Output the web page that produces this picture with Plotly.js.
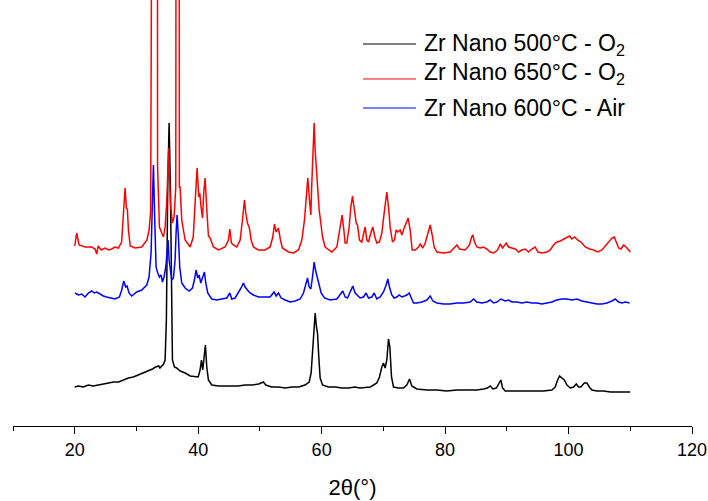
<!DOCTYPE html>
<html>
<head>
<meta charset="utf-8">
<script src="https://cdn.plot.ly/plotly-3.0.1.min.js"></script>
<style>
html,body{margin:0;padding:0;background:#fff;}
#chart{width:708px;height:501px;}
</style>
</head>
<body>
<div id="chart"></div>
<script>
// Series names
const seriesNames = ["Zr Nano 500°C - O<sub>2</sub>", "Zr Nano 650°C - O<sub>2</sub>", "Zr Nano 600°C - Air"];
const seriesColors = ["#000000", "#ff0000", "#0000ff"];

// Black: Zr Nano 500°C - O2 (offset intensity, a.u.)
const blackX = [20.0,20.6,21.4,22.2,23.0,23.8,24.6,25.5,26.3,27.1,27.9,28.7,29.5,30.3,31.1,31.9,32.6,33.1,33.6,33.8,34.1,34.4,34.64,34.85,35.07,35.29,35.5,35.67,35.83,36.15,36.5,37.1,37.9,38.7,39.5,40.0,40.31,40.53,40.74,40.96,41.17,41.39,41.66,42.2,43.3,44.4,45.4,46.5,47.6,48.7,49.8,50.3,50.57,50.95,51.9,53.0,54.1,55.2,56.3,57.3,57.98,58.3,58.52,58.73,58.95,59.16,59.33,59.54,59.76,60.14,61.1,62.2,63.3,64.4,65.4,66.2,67.9,68.94,69.37,69.75,70.02,70.29,70.56,70.83,71.05,71.32,71.64,72.45,73.26,73.8,74.24,74.61,75.42,77.05,78.67,80.29,81.91,83.53,85.15,86.23,86.88,87.31,87.74,88.3,88.72,89.04,89.31,89.74,91.09,92.71,94.33,95.95,97.3,97.84,98.22,98.55,98.93,99.31,99.74,100.28,100.82,101.25,101.63,102.0,102.55,102.98,103.36,103.79,104.6,105.68,106.76,107.84,108.92,110.0];
const blackY = [39,40,39,41,40,41,42,43,44,44,46,48,49,51,53,55,57,59,60,58,60,62,66,106,239,303,239,139,66,59,58,55,53,50,49,49,56,66,56,66,81,59,46,41,40,40,40,40,41,41,42,43,44,41,39,39,38,39,39,41,44,53,73,103,113,99,93,69,48,41,39,39,38,38,39,38,39,43,49,59,63,58,66,87,79,49,39,38,38,41,47,40,37,36,36,35,36,36,36,37,38,40,37,38,43,46,38,35,35,35,35,35,36,39,46,50,48,46,41,38,39,42,39,39,43,43,39,36,35,35,34,34,34,34];

// Red: Zr Nano 650°C - O2 (offset intensity, a.u.)
const redX = [20.0,20.32,20.7,21.7,22.75,23.3,23.56,23.8,24.3,24.9,25.5,26.0,26.5,27.07,27.6,27.9,28.15,28.37,28.53,28.7,29.0,29.8,30.86,31.7,32.05,32.3,32.45,32.58,33.3,33.42,33.55,33.72,34.1,34.37,34.64,34.9,35.22,35.5,35.83,36.1,36.37,36.52,36.78,36.95,37.07,37.34,37.88,38.7,39.2,39.5,39.82,40.1,40.26,40.47,40.7,40.9,41.12,41.4,41.66,41.93,42.47,43.3,44.36,44.9,45.12,45.39,45.7,46.25,46.8,47.17,47.5,47.71,47.98,48.3,48.58,48.95,49.76,50.84,51.65,52.09,52.36,52.63,53.0,53.33,53.65,54.63,55.44,56.25,56.79,57.22,57.6,57.76,58.03,58.25,58.41,58.62,58.79,58.95,59.16,59.38,59.6,59.87,60.14,60.57,61.65,62.46,62.84,63.11,63.32,63.6,63.81,64.08,64.46,64.73,65.0,65.38,65.6,65.81,66.13,66.51,66.78,67.05,67.32,67.59,67.97,68.29,68.62,68.94,69.37,69.75,70.13,70.35,70.56,70.83,71.1,71.48,71.8,72.08,72.35,72.72,72.99,73.37,73.7,74.02,74.34,74.67,75.15,75.7,75.97,76.4,76.78,77.21,77.59,77.91,78.23,78.67,79.75,80.83,81.48,81.91,82.34,83.26,83.96,84.29,84.5,84.77,85.15,85.69,86.23,86.77,87.31,87.85,88.5,88.93,89.31,89.9,90.28,90.82,91.36,91.9,92.44,92.98,93.52,94.06,94.6,95.04,95.68,96.5,97.03,97.57,98.11,98.66,99.2,99.74,100.17,100.55,100.98,101.46,102.0,102.71,103.41,104.06,104.7,105.41,105.95,106.6,107.03,107.41,107.73,108.11,108.49,108.92,109.19,109.57,110.0];
const redY = [180,193,181,179,179,177,172,180,176,178,176,177,179,178,184,213,238,218,217,196,180,178,179,186,196,215,300,2000,2000,260,223,199,193,189,199,223,278,223,203,209,239,3000,3000,239,239,206,186,179,189,223,258,229,233,219,208,233,248,216,190,188,179,176,179,186,197,183,181,179,186,206,226,213,203,198,186,179,176,176,179,189,202,194,198,186,178,174,173,176,186,206,236,248,226,211,243,283,303,276,256,243,216,203,189,179,174,179,193,206,211,196,183,183,199,219,230,213,203,201,186,184,193,199,186,184,193,199,189,183,184,193,213,226,234,219,199,184,186,196,194,196,191,198,203,208,196,176,176,179,182,178,183,193,201,191,179,174,173,174,178,181,177,176,181,189,191,184,179,178,179,177,174,173,176,182,178,183,179,178,177,174,176,177,174,177,179,174,173,174,176,181,184,185,187,189,190,187,189,186,184,179,177,176,174,176,180,185,188,189,184,178,177,181,180,177,174];

// Blue: Zr Nano 600°C - Air (offset intensity, a.u.)
const blueX = [20.05,20.59,21.13,21.67,22.21,22.75,23.18,23.56,24.1,24.64,25.18,25.72,26.53,27.24,27.61,27.94,28.26,28.48,28.8,29.23,30.05,30.86,31.67,32.04,32.37,32.58,32.75,32.96,33.18,33.45,33.72,33.99,34.21,34.47,34.75,34.96,35.12,35.29,35.45,35.72,35.99,36.26,36.42,36.58,36.8,37.01,37.34,37.88,38.53,39.07,39.39,39.66,39.93,40.15,40.42,40.74,41.01,41.23,41.55,42.2,43.01,43.82,44.63,45.12,45.44,45.98,46.52,46.95,47.33,47.6,47.98,48.41,48.95,49.76,50.84,51.65,52.3,52.63,53.0,53.44,54.09,54.9,55.71,56.52,57.06,57.44,57.71,57.98,58.25,58.52,58.79,59.0,59.27,59.6,59.92,60.46,61.38,62.46,63.0,63.43,63.81,64.19,64.62,65.05,65.43,65.81,66.24,66.78,67.21,67.59,68.13,68.51,68.94,69.48,70.02,70.45,70.72,70.99,71.37,71.75,72.18,72.56,72.99,73.43,73.8,74.18,74.51,74.88,75.42,76.24,77.05,77.59,78.02,78.67,79.75,80.83,81.91,82.99,84.07,84.61,85.15,85.96,86.77,87.31,87.85,88.39,89.04,89.74,90.28,90.82,91.63,92.44,93.25,94.06,94.87,95.68,96.5,97.3,98.11,98.93,99.74,100.55,101.36,102.17,102.98,103.79,104.6,105.41,106.22,107.03,107.57,108.11,108.65,109.19,109.89];
const blueY = [133,131,132,129,133,135,133,134,132,130,129,128,127,129,136,145,139,140,133,130,134,136,141,149,173,223,261,206,159,153,149,151,144,149,159,173,186,166,156,146,148,166,193,211,189,159,143,138,135,138,146,156,148,151,143,149,154,143,133,127,126,127,128,133,127,128,133,138,143,139,136,133,131,129,129,129,134,130,133,128,126,124,125,127,133,141,148,139,137,149,164,156,149,139,133,128,126,127,131,135,129,128,134,140,133,131,128,129,133,128,129,133,127,129,134,141,147,139,131,128,129,131,129,130,131,133,128,123,123,124,126,130,125,123,122,122,123,123,124,127,124,123,124,126,123,124,127,125,126,124,124,123,124,123,123,122,123,124,126,127,127,126,127,125,124,123,122,122,123,125,127,124,123,124,123];

// Axis ticks
const majorTicks = [20, 40, 60, 80, 100, 120];
const xTitle = "2θ(°)";

const xs = [blackX, redX, blueX];
const ys = [blackY, redY, blueY];

const traces = xs.map((x, i) => ({
  x: x, y: ys[i], type: 'scatter', mode: 'lines', name: seriesNames[i],
  line: {color: seriesColors[i], width: 1.5}, showlegend: false, hoverinfo: 'skip'
}));

const FONT = 'Liberation Sans, Arial, sans-serif';
const legendRows = [0.8967, 0.8286, 0.7465];
const legendLines = [0.8967, 0.8146, 0.7465];

const shapes = seriesNames.map((n, i) => ({
  type: 'line', xref: 'paper', yref: 'paper', x0: 0.5155, x1: 0.5935,
  y0: legendLines[i], y1: legendLines[i], line: {color: seriesColors[i], width: 1}
}));
const annotations = seriesNames.map((n, i) => ({
  text: n, xref: 'paper', yref: 'paper', x: 0.6024, y: legendRows[i],
  xanchor: 'left', yanchor: 'middle', showarrow: false,
  font: {family: FONT, size: 23, color: '#000'}
}));

const layout = {
  width: 708, height: 501,
  margin: {l: 13, r: 16, t: 0, b: 75},
  paper_bgcolor: '#fff', plot_bgcolor: '#fff',
  showlegend: false,
  xaxis: {
    range: [10, 120], tickvals: majorTicks, ticktext: majorTicks.map(String),
    ticks: 'outside', ticklen: 7, tickwidth: 1, tickcolor: '#000',
    showline: true, linecolor: '#000', linewidth: 1, showgrid: false, zeroline: false,
    minor: {tickvals: [10, 30, 50, 70, 90, 110], ticks: 'outside', ticklen: 4, tickwidth: 1, tickcolor: '#000', showgrid: false},
    tickfont: {family: FONT, size: 18, color: '#000'},
    title: {text: xTitle, font: {family: FONT, size: 22, color: '#000'}, standoff: 21}
  },
  yaxis: {range: [0, 426], visible: false, showgrid: false, zeroline: false},
  shapes: shapes, annotations: annotations
};

Plotly.newPlot('chart', traces, layout, {displayModeBar: false, staticPlot: true});
</script>
</body>
</html>
